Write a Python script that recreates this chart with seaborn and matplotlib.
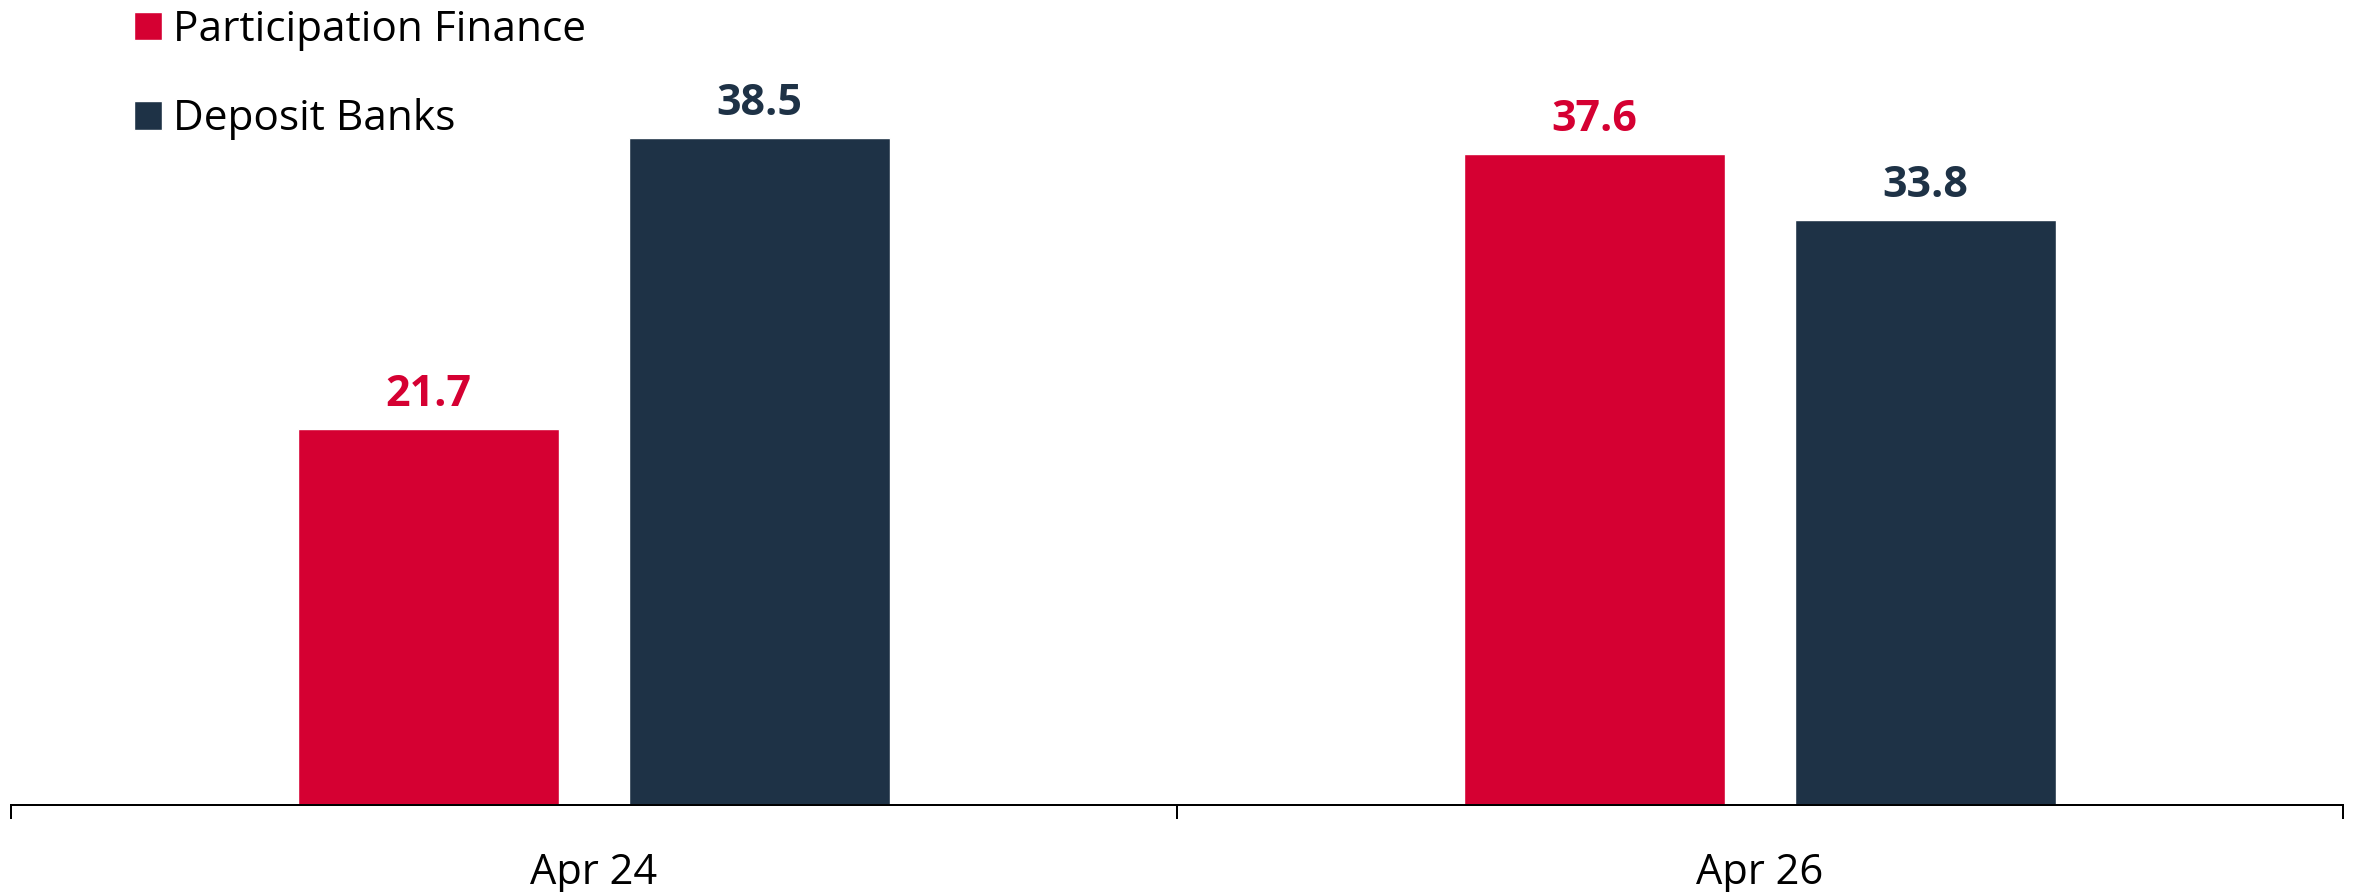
import matplotlib
matplotlib.use("Agg")
import matplotlib.pyplot as plt
import seaborn as sns
import pandas as pd

# ---- data ----
categories = ["Apr 24", "Apr 26"]
series_names = ["Participation Finance", "Deposit Banks"]
participation_finance = [21.7, 37.6]
deposit_banks = [38.5, 33.8]
colors = ["#D50032", "#1E3246"]

df = pd.DataFrame({
    "period": categories * 2,
    "series": [series_names[0]] * 2 + [series_names[1]] * 2,
    "value": participation_finance + deposit_banks,
})

sns.set_theme(style="white")
plt.rcParams["font.family"] = ["Open Sans", "DejaVu Sans"]

W, H = 2359, 892
fig = plt.figure(figsize=(W / 100, H / 100), dpi=100)
ax = fig.add_axes([11 / W, 87 / H, 2332 / W, 805 / H])

sns.barplot(data=df, x="period", y="value", hue="series", order=categories,
            hue_order=series_names, palette=colors, width=0.568, gap=0.212,
            saturation=1, ax=ax, legend=True)

ax.set_xlim(-0.5, 1.5)
ax.set_ylim(0, 46.48)

# value labels
for cont, col, vals in zip(ax.containers, colors, [participation_finance, deposit_banks]):
    for patch, v in zip(cont.patches, vals):
        ax.annotate(f"{v:.1f}", xy=(patch.get_x() + patch.get_width() / 2, patch.get_height()),
                    xytext=(0, 16.5), textcoords="offset points", ha="center", va="baseline",
                    fontsize=31, fontweight="bold", color=col)

# axes styling
for s in ["left", "top", "right"]:
    ax.spines[s].set_visible(False)
ax.spines["bottom"].set_color("black")
ax.spines["bottom"].set_linewidth(1.44)
ax.set_yticks([])
ax.set_xlabel("")
ax.set_ylabel("")
ax.set_xticks([0, 1])
ax.set_xticklabels(categories)
ax.set_xticks([-0.5, 0.5, 1.5], minor=True)
ax.tick_params(axis="x", which="major", length=0, pad=34, labelsize=30, labelcolor="black")
ax.tick_params(axis="x", which="minor", length=10, width=1.44, color="black", direction="out",
               bottom=True)

# legend
handles, labels = ax.get_legend_handles_labels()
ax.legend(handles, labels, loc="upper left", bbox_to_anchor=(134 / W, 1.0 - 9 / H),
          bbox_transform=fig.transFigure, frameon=False, fontsize=30.5,
          handlelength=0.65, handleheight=0.65, handletextpad=0.28,
          labelspacing=1.12, borderpad=0, borderaxespad=0, labelcolor="black")

fig.savefig("out.png", dpi=100)
